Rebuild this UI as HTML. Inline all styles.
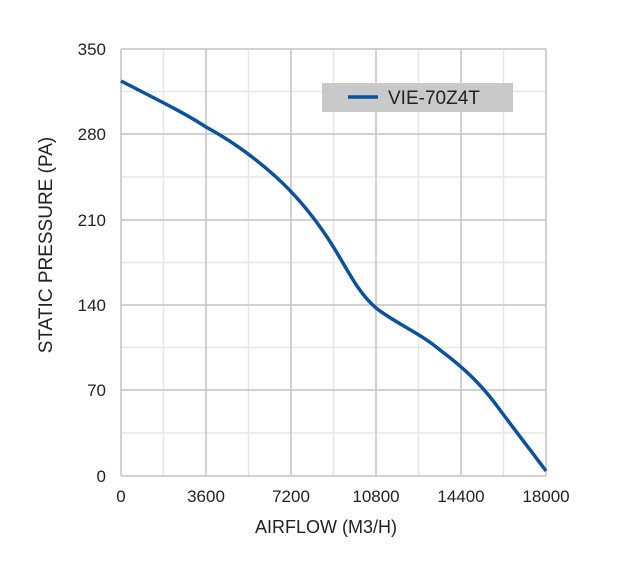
<!DOCTYPE html>
<html><head><style>body{margin:0;background:#fff}svg{display:block}text{font-family:"Liberation Sans",sans-serif;fill:#222}</style></head>
<body>
<svg width="621" height="577" viewBox="0 0 621 577">
<g stroke="#e6e6e6" stroke-width="1.5">
<line x1="163.5" y1="49" x2="163.5" y2="476"/><line x1="248.5" y1="49" x2="248.5" y2="476"/><line x1="333.5" y1="49" x2="333.5" y2="476"/><line x1="418.5" y1="49" x2="418.5" y2="476"/><line x1="503.5" y1="49" x2="503.5" y2="476"/>
<line x1="121" y1="91.5" x2="546" y2="91.5"/><line x1="121" y1="177" x2="546" y2="177"/><line x1="121" y1="262.5" x2="546" y2="262.5"/><line x1="121" y1="347.5" x2="546" y2="347.5"/><line x1="121" y1="433" x2="546" y2="433"/>
</g>
<g stroke="#c4c4c4" stroke-width="1.5">
<line x1="121" y1="49" x2="121" y2="476"/><line x1="206" y1="49" x2="206" y2="476"/><line x1="291" y1="49" x2="291" y2="476"/><line x1="376" y1="49" x2="376" y2="476"/><line x1="461" y1="49" x2="461" y2="476"/><line x1="546" y1="49" x2="546" y2="476"/>
<line x1="121" y1="49" x2="546" y2="49"/><line x1="121" y1="134" x2="546" y2="134"/><line x1="121" y1="220" x2="546" y2="220"/><line x1="121" y1="305" x2="546" y2="305"/><line x1="121" y1="390" x2="546" y2="390"/><line x1="121" y1="476" x2="546" y2="476"/>
</g>
<path d="M121,81 C150,96 185,113 206,127 C230,140 255,158 275,176 C295,194 310,212 325,234 C345,263 355,290 376,308 C395,323 420,333 440,350 C460,365 480,382 500,410 C520,437 535,456 546,471" fill="none" stroke="#0a52a0" stroke-width="3.5"/>
<rect x="322" y="83" width="191" height="29" fill="#c9c9c9"/>
<line x1="348" y1="97" x2="378" y2="97" stroke="#0a52a0" stroke-width="3.5"/>
<text x="388" y="104" font-size="19">VIE-70Z4T</text>
<g font-size="17" text-anchor="end">
<text x="106" y="55">350</text><text x="106" y="140">280</text><text x="106" y="226">210</text><text x="106" y="311">140</text><text x="106" y="396">70</text><text x="106" y="482">0</text>
</g>
<g font-size="17" text-anchor="middle">
<text x="121" y="502">0</text><text x="206" y="502">3600</text><text x="291" y="502">7200</text><text x="376" y="502">10800</text><text x="461" y="502">14400</text><text x="546" y="502">18000</text>
</g>
<text x="326" y="533" font-size="18" text-anchor="middle">AIRFLOW (M3/H)</text>
<text transform="translate(52,245) rotate(-90)" font-size="19" text-anchor="middle">STATIC PRESSURE (PA)</text>
</svg>
</body></html>
